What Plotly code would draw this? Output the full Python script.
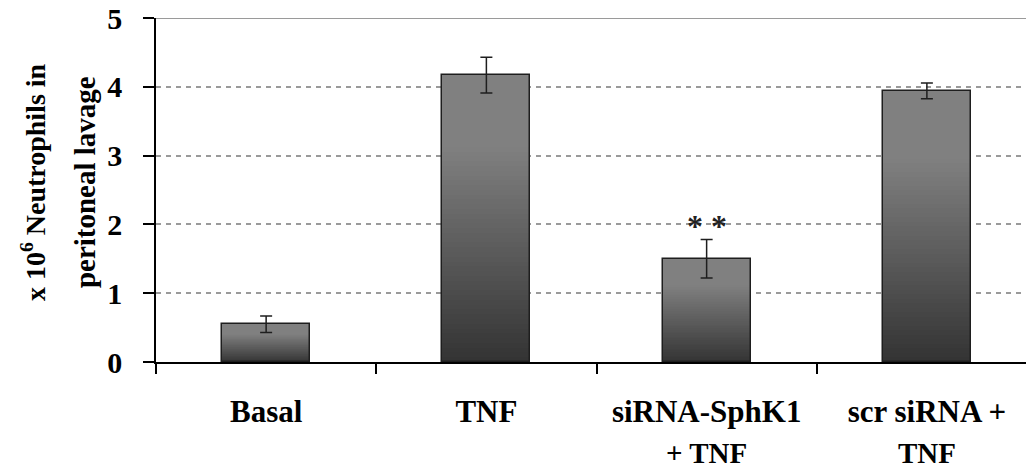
import plotly.graph_objects as go

# Neutrophil counts in peritoneal lavage (x 10^6), mean ± error
categories = ["Basal", "TNF", "siRNA-SphK1 + TNF", "scr siRNA + TNF"]
label_line1 = ["Basal", "TNF", "siRNA-SphK1", "scr siRNA +"]
label_line2 = ["", "", "+ TNF", "TNF"]
values = [0.55, 4.17, 1.50, 3.94]
errors = [0.12, 0.26, 0.28, 0.115]
significance = ["", "", "* *", ""]
y_ticks = [0, 1, 2, 3, 4, 5]

Y_MAX = 5
FONT = "Liberation Serif, Times New Roman, Times, serif"
N_STEPS = 60  # vertical gradient resolution per bar


def gray(t):
    # light at the top of a bar, darkening toward its base
    level = 51 + (128 - 51) * min(1.0, t / 0.75)
    g = int(round(level))
    return f"rgb({g},{g},{g})"


def bold(s):
    return f"<b>{s}</b>"


seg_x, seg_base, seg_y, seg_col = [], [], [], []
for cat, v in zip(categories, values):
    step = v / N_STEPS
    for i in range(N_STEPS):
        seg_x.append(cat)
        seg_base.append(step * i)
        seg_y.append(step * 1.02)
        seg_col.append(gray((i + 0.5) / N_STEPS))

fig = go.Figure()

# gradient fill
fig.add_trace(go.Bar(
    x=seg_x, y=seg_y, base=seg_base,
    marker=dict(color=seg_col, line=dict(width=0)),
    width=0.4, hoverinfo="skip", showlegend=False,
))

# bar outlines with error bars
fig.add_trace(go.Bar(
    x=categories, y=values,
    marker=dict(color="rgba(0,0,0,0)", line=dict(color="#1e1e1e", width=1.5)),
    width=0.4, showlegend=False,
    error_y=dict(type="data", array=errors, visible=True,
                 color="#1e1e1e", thickness=1.5, width=6),
))

annotations = []
for cat, v, e, s in zip(categories, values, errors, significance):
    if s:
        annotations.append(dict(
            x=cat, y=v + e, xref="x", yref="y", text=bold(s), showarrow=False,
            yanchor="bottom", yshift=-6,
            font=dict(family=FONT, size=32, color="#222"),
        ))

for cat, line in zip(categories, label_line2):
    if line:
        annotations.append(dict(
            x=cat, y=-0.2645, xref="x", yref="paper", text=bold(line), showarrow=False,
            yanchor="middle", font=dict(family=FONT, size=29, color="black"),
        ))

annotations += [
    dict(x=-0.1414, y=0.523, xref="paper", yref="paper", textangle=-90,
         text=bold("x 10<sup>6</sup> Neutrophils in"), showarrow=False,
         xanchor="center", yanchor="middle",
         font=dict(family=FONT, size=28, color="black")),
    dict(x=-0.0816, y=0.523, xref="paper", yref="paper", textangle=-90,
         text=bold("peritoneal lavage"), showarrow=False,
         xanchor="center", yanchor="middle",
         font=dict(family=FONT, size=29, color="black")),
]

fig.update_layout(
    width=1026, height=472,
    margin=dict(l=156, r=0, t=18, b=110),
    paper_bgcolor="white", plot_bgcolor="white",
    barmode="overlay", bargap=0,
    font=dict(family=FONT, size=28, color="black"),
    annotations=annotations,
    shapes=[dict(type="line", xref="paper", yref="y", x0=0, x1=1,
                 y0=Y_MAX, y1=Y_MAX, line=dict(color="#9a9a9a", width=2),
                 layer="below")],
    xaxis=dict(
        type="category", range=[-0.5, 3.45],
        tickmode="array", tickvals=categories,
        ticktext=[bold(t) for t in label_line1],
        tickson="boundaries", ticks="outside", ticklen=10, tickwidth=1.5,
        tickcolor="black", showline=True, linecolor="black", linewidth=1.5,
        showgrid=False, ticklabelstandoff=21,
        tickfont=dict(family=FONT, size=31, color="black"),
    ),
    yaxis=dict(
        range=[0, Y_MAX], tickmode="array", tickvals=y_ticks,
        ticktext=[bold(t) for t in y_ticks],
        ticks="outside", ticklen=11, tickwidth=1.5,
        tickcolor="black", showline=True, linecolor="black", linewidth=1.5,
        showgrid=True, gridcolor="#9a9a9a", gridwidth=1.5, griddash="5px,5px",
        zeroline=False, ticklabelstandoff=15,
        tickfont=dict(family=FONT, size=30, color="black"),
    ),
)

fig.write_html("out.html")
